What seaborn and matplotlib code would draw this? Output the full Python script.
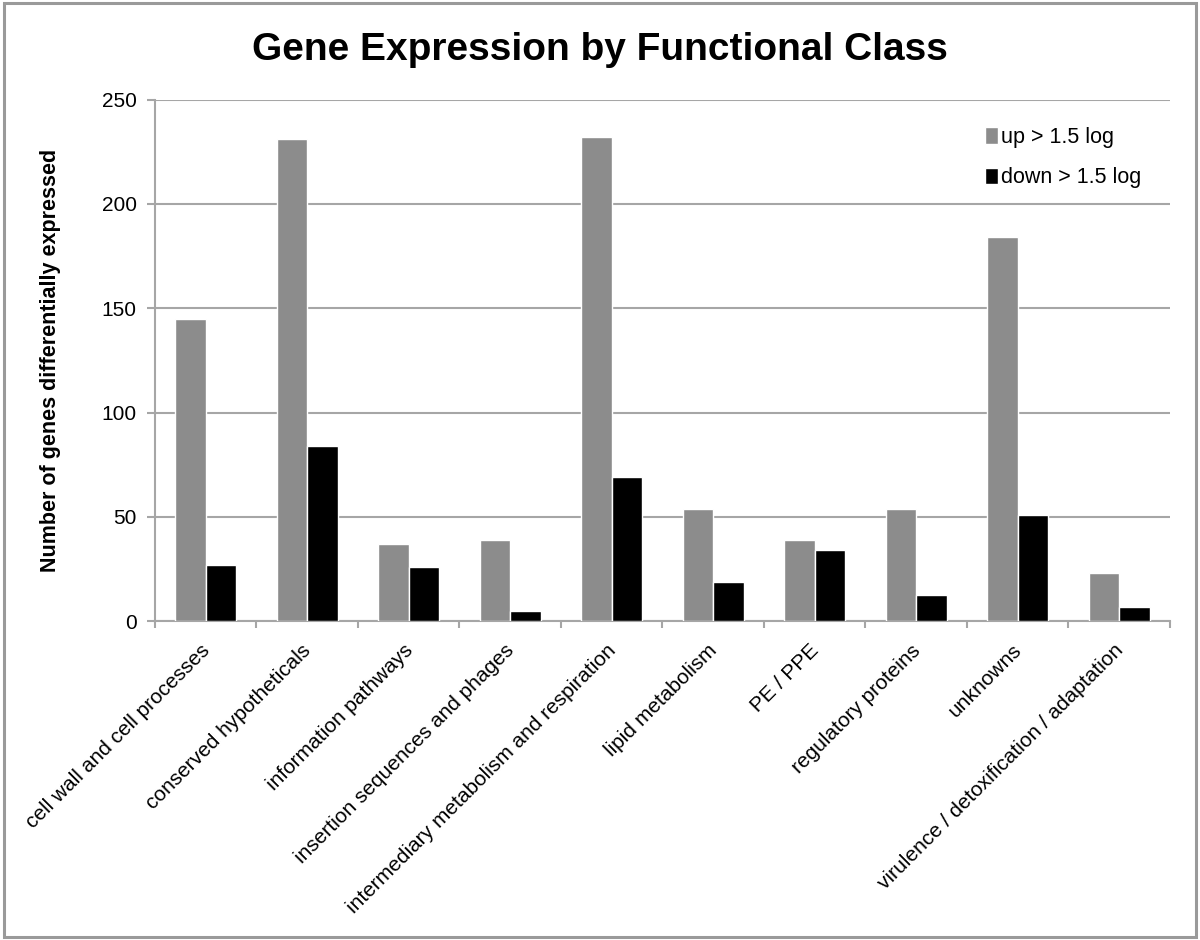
import pandas as pd
import numpy as np
import matplotlib.pyplot as plt
import matplotlib.transforms as mtransforms
import seaborn as sns
from matplotlib.patches import Rectangle

categories = ['cell wall and cell processes', 'conserved hypotheticals',
              'information pathways', 'insertion sequences and phages',
              'intermediary metabolism and respiration', 'lipid metabolism',
              'PE / PPE', 'regulatory proteins', 'unknowns',
              'virulence / detoxification / adaptation']
up_values = [145, 231, 37, 39, 232, 54, 39, 54, 184, 23]
down_values = [27, 84, 26, 5, 69, 19, 34, 12.5, 51, 7]
series_names = ['up > 1.5 log', 'down > 1.5 log']

df = pd.DataFrame({
    'category': categories * 2,
    'value': up_values + down_values,
    'series': [series_names[0]] * len(categories) + [series_names[1]] * len(categories),
})

sns.set_style('white')
plt.rcParams['font.family'] = ['Liberation Sans', 'DejaVu Sans']
plt.rcParams['text.color'] = 'black'
plt.rcParams['xtick.labelcolor'] = 'black'
plt.rcParams['ytick.labelcolor'] = 'black'
plt.rcParams['axes.labelcolor'] = 'black'

fig = plt.figure(figsize=(12, 9.4), dpi=100)
ax = fig.add_axes([0.129, 0.339, 0.846, 0.555])

sns.barplot(data=df, x='category', y='value', hue='series', order=categories,
            hue_order=series_names, palette=['#8c8c8c', '#000000'],
            width=0.6, saturation=1, ax=ax, zorder=3)

grid_color = '#a6a6a6'
ax.set_ylim(0, 250)
ax.set_xlim(-0.5, len(categories) - 0.5)
ax.set_yticks(np.arange(0, 251, 50))
ax.yaxis.grid(True, color=grid_color, linewidth=1.5, zorder=0)
ax.set_axisbelow(True)
for side in ['top', 'right']:
    ax.spines[side].set_visible(False)
for side in ['left', 'bottom']:
    ax.spines[side].set_color(grid_color)
    ax.spines[side].set_linewidth(1.5)

ax.tick_params(axis='y', labelsize=15, length=6, width=1.5, color=grid_color,
               left=True, pad=7, labelcolor='black')
ax.set_xticks(np.arange(-0.5, len(categories), 1.0), minor=True)
ax.tick_params(axis='x', which='minor', length=5, width=1.5, color=grid_color,
               bottom=True, direction='out')
ax.tick_params(axis='x', which='major', length=0, pad=14, labelcolor='black')
ax.set_xticks(range(len(categories)))
ax.set_xticklabels(categories, rotation=45, ha='right', rotation_mode='anchor',
                   fontsize=15)
shift = mtransforms.ScaledTranslation(-4 / 72, 0, fig.dpi_scale_trans)
for lab in ax.get_xticklabels():
    lab.set_transform(lab.get_transform() + shift)

ax.set_xlabel('')
ax.set_ylabel('Number of genes differentially expressed', fontsize=15.5,
              fontweight='bold', color='black')
ax.yaxis.set_label_coords(-0.092, 0.5)
fig.text(0.5, 1 - 60 / 940, 'Gene Expression by Functional Class', fontsize=28,
         fontweight='bold', ha='center', va='baseline', color='black')

leg = ax.legend(loc='upper right', bbox_to_anchor=(0.991, 0.985), frameon=False,
                fontsize=15.5, handlelength=0.6, handleheight=0.8,
                handletextpad=0.15, labelspacing=0.9)
for t in leg.get_texts():
    t.set_color('black')

fig.patches.append(Rectangle((0.003, 0.003), 0.994, 0.994, transform=fig.transFigure,
                             fill=False, edgecolor='#9a9a9a', linewidth=2.2))

fig.savefig('out.png', dpi=100)
